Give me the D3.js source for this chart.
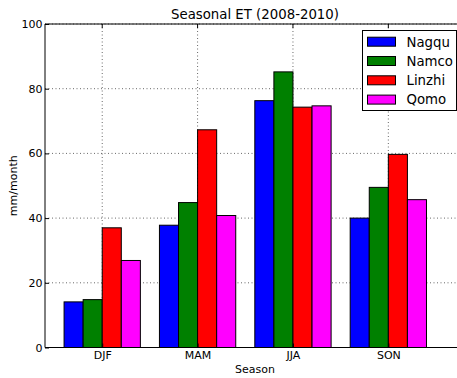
<!DOCTYPE html>
<html><head><meta charset="utf-8">
<script src="https://cdn.jsdelivr.net/npm/d3@7"></script>
<style>body{margin:0;background:#fff}svg{display:block}text{font-family:"DejaVu Sans",sans-serif;fill:#000}</style>
</head><body><svg id="c" width="457" height="378"></svg>
<script>
const categories = ["DJF","MAM","JJA","SON"];
const seriesNames = ["Nagqu","Namco","Linzhi","Qomo"];
const colors = ["#0000ff","#008000","#ff0000","#ff00ff"];
const nagqu  = [14.1, 37.8, 76.3, 40.0];
const namco  = [14.8, 44.8, 85.2, 49.5];
const linzhi = [37.0, 67.3, 74.3, 59.7];
const qomo   = [26.9, 40.8, 74.7, 45.7];
const yTicks = [0,20,40,60,80,100];
const series = [nagqu, namco, linzhi, qomo];

const svg = d3.select("#c");
const L = 45, T = 24, B = 347.5;
const x = d3.scaleLinear().domain([-0.6, 3.72]).range([L, 457]);
const y = d3.scaleLinear().domain([0,100]).range([B, T]);
const bw = 0.2;
const R = x(3.72) + 8; // right edge beyond view

const g = svg.append("g");
// grid
g.selectAll(".gy").data(yTicks).enter().append("line")
  .attr("x1", L).attr("x2", R).attr("y1", d=>y(d)).attr("y2", d=>y(d))
  .attr("stroke","#000").attr("stroke-width",0.6).attr("stroke-dasharray","1,2.5");
g.selectAll(".gx").data(categories).enter().append("line")
  .attr("x1", (d,i)=>x(i)).attr("x2",(d,i)=>x(i)).attr("y1",T).attr("y2",B)
  .attr("stroke","#000").attr("stroke-width",0.6).attr("stroke-dasharray","1,2.5");

// bars
series.forEach((s, k) => {
  g.selectAll(".b"+k).data(s).enter().append("rect")
    .attr("x", (d,i)=>x(i - 2*bw + k*bw))
    .attr("width", x(bw) - x(0))
    .attr("y", d=>y(d))
    .attr("height", d=>y(0)-y(d))
    .attr("fill", colors[k]).attr("stroke","#000").attr("stroke-width",1);
});

// spines
g.append("line").attr("x1",L).attr("x2",L).attr("y1",T).attr("y2",B).attr("stroke","#000");
g.append("line").attr("x1",L).attr("x2",R).attr("y1",B).attr("y2",B).attr("stroke","#000");
g.append("line").attr("x1",L).attr("x2",R).attr("y1",T).attr("y2",T).attr("stroke","#000");

// y axis ticks inward
const ya = d3.axisLeft(y).tickValues(yTicks).tickSize(-4).tickPadding(2.5);
const yg = svg.append("g").attr("transform",`translate(${L},0)`).call(ya);
yg.select(".domain").remove();
yg.selectAll("text").style("font-size","11px").style("font-family","DejaVu Sans");

// x axis
const xa = d3.axisBottom(x).tickValues(d3.range(categories.length)).tickFormat(i=>categories[i]).tickSize(-4).tickPadding(4);
const xg = svg.append("g").attr("transform",`translate(0,${B})`).call(xa);
xg.select(".domain").remove();
xg.selectAll("text").style("font-size","11px").style("font-family","DejaVu Sans");
// top ticks
svg.append("g").selectAll("line").data(d3.range(categories.length)).enter().append("line")
  .attr("x1",i=>x(i)).attr("x2",i=>x(i)).attr("y1",T).attr("y2",T+4).attr("stroke","#000");

// title & labels
svg.append("text").attr("x", (L+465)/2).attr("y",19).attr("text-anchor","middle")
  .style("font-size","13.3px").text("Seasonal ET (2008-2010)");
svg.append("text").attr("x", (L+465)/2).attr("y",373).attr("text-anchor","middle")
  .style("font-size","11px").text("Season");
svg.append("text").attr("transform",`translate(16.5,${(T+B)/2}) rotate(-90)`).attr("text-anchor","middle")
  .style("font-size","11px").text("mm/month");

// legend
const lg = svg.append("g");
lg.append("rect").attr("x",362.5).attr("y",30.5).attr("width",94).attr("height",80)
  .attr("fill","#fff").attr("stroke","#000").attr("stroke-width",1);
seriesNames.forEach((n,k)=>{
  const cy = 41.7 + k*19.3;
  lg.append("rect").attr("x",367.5).attr("y",cy-4.5).attr("width",28).attr("height",9)
    .attr("fill",colors[k]).attr("stroke","#000").attr("stroke-width",1);
  lg.append("text").attr("x",406.5).attr("y",cy+4.8).style("font-size","13.3px").text(n);
});
</script></body></html>
